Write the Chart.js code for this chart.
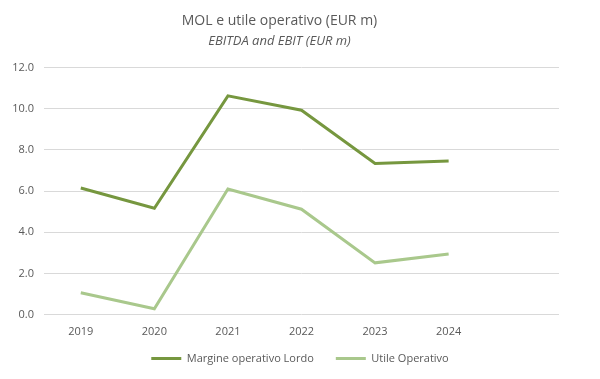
<!DOCTYPE html>
<html><head><meta charset="utf-8">
<script src="https://cdn.jsdelivr.net/npm/chart.js@4"></script>
<style>html,body{margin:0;padding:0;background:#fff}#w{width:600px;height:379px}</style>
</head><body><div id="w"><canvas id="c"></canvas></div>
<script>
const categories = ['2019','2020','2021','2022','2023','2024',''];
const molValues = [6.15, 5.17, 10.62, 9.92, 7.34, 7.46, null];
const ebitValues = [1.07, 0.29, 6.10, 5.12, 2.52, 2.95, null];
const seriesNames = ['Margine operativo Lordo','Utile Operativo'];
const titleText = 'MOL e utile operativo (EUR m)';
const subtitleText = 'EBITDA and EBIT (EUR m)';
const font = "'Open Sans', 'Liberation Sans', sans-serif";
const LEG_PAD_V = 5, LEG_GAP = 22;
const legendTweak = {
  id: 'legendTweak',
  afterLayout(chart) {
    const lg = chart.legend;
    if (!lg) return;
    lg.left = 0; lg.right = chart.width; lg.width = chart.width;
  },
  beforeDraw(chart) {
    const lg = chart.legend;
    if (!lg || !lg.lineWidths) return;
    const d = LEG_GAP - LEG_PAD_V;
    const n = (lg.legendItems || []).length;
    lg._saved = {lw: lg.lineWidths.slice(), top: lg.top};
    lg.lineWidths = lg.lineWidths.map(w => w + d * n);
    lg.options.labels.padding = LEG_GAP;
    lg.top -= d;
  },
  afterDraw(chart) {
    const lg = chart.legend;
    if (!lg || !lg._saved) return;
    lg.lineWidths = lg._saved.lw; lg.top = lg._saved.top;
    lg.options.labels.padding = LEG_PAD_V;
    lg._saved = null;
  }
};
new Chart(document.getElementById('c'), {
  type: 'line',
  data: {
    labels: categories,
    datasets: [
      {label: seriesNames[0], data: molValues, borderColor: '#76973F', backgroundColor: '#76973F', borderWidth: 3, pointRadius: 0, tension: 0},
      {label: seriesNames[1], data: ebitValues, borderColor: '#A9C88C', backgroundColor: '#A9C88C', borderWidth: 3, pointRadius: 0, tension: 0}
    ]
  },
  plugins: [legendTweak],
  options: {
    responsive: true, maintainAspectRatio: false, animation: false,
    layout: {padding: {left: 0, right: 41, top: 11, bottom: 5}},
    plugins: {
      title: {display: true, text: titleText, color: '#595959', font: {family: font, size: 14, weight: 'normal'}, padding: {top: 2, bottom: 4}},
      subtitle: {display: true, text: subtitleText, color: '#595959', font: {family: font, size: 13, style: 'italic'}, padding: {top: 0, bottom: 18}},
      legend: {position: 'bottom', labels: {usePointStyle: true, pointStyle: 'line', pointStyleWidth: 30, boxWidth: 30, color: '#595959', font: {family: font, size: 11}, padding: LEG_PAD_V}},
      tooltip: {enabled: false}
    },
    scales: {
      x: {offset: true, grid: {display: false, drawTicks: false}, border: {display: false},
          ticks: {color: '#595959', font: {family: font, size: 11}, padding: 10, maxRotation: 0}},
      y: {min: 0, max: 12, grid: {color: '#D9D9D9', lineWidth: 1, drawTicks: false}, border: {display: false},
          ticks: {stepSize: 2, color: '#595959', font: {family: font, size: 11}, padding: 10, callback: v => v.toFixed(1)},
          afterFit: s => { s.width = 44; }}
    }
  }
});
</script></body></html>
